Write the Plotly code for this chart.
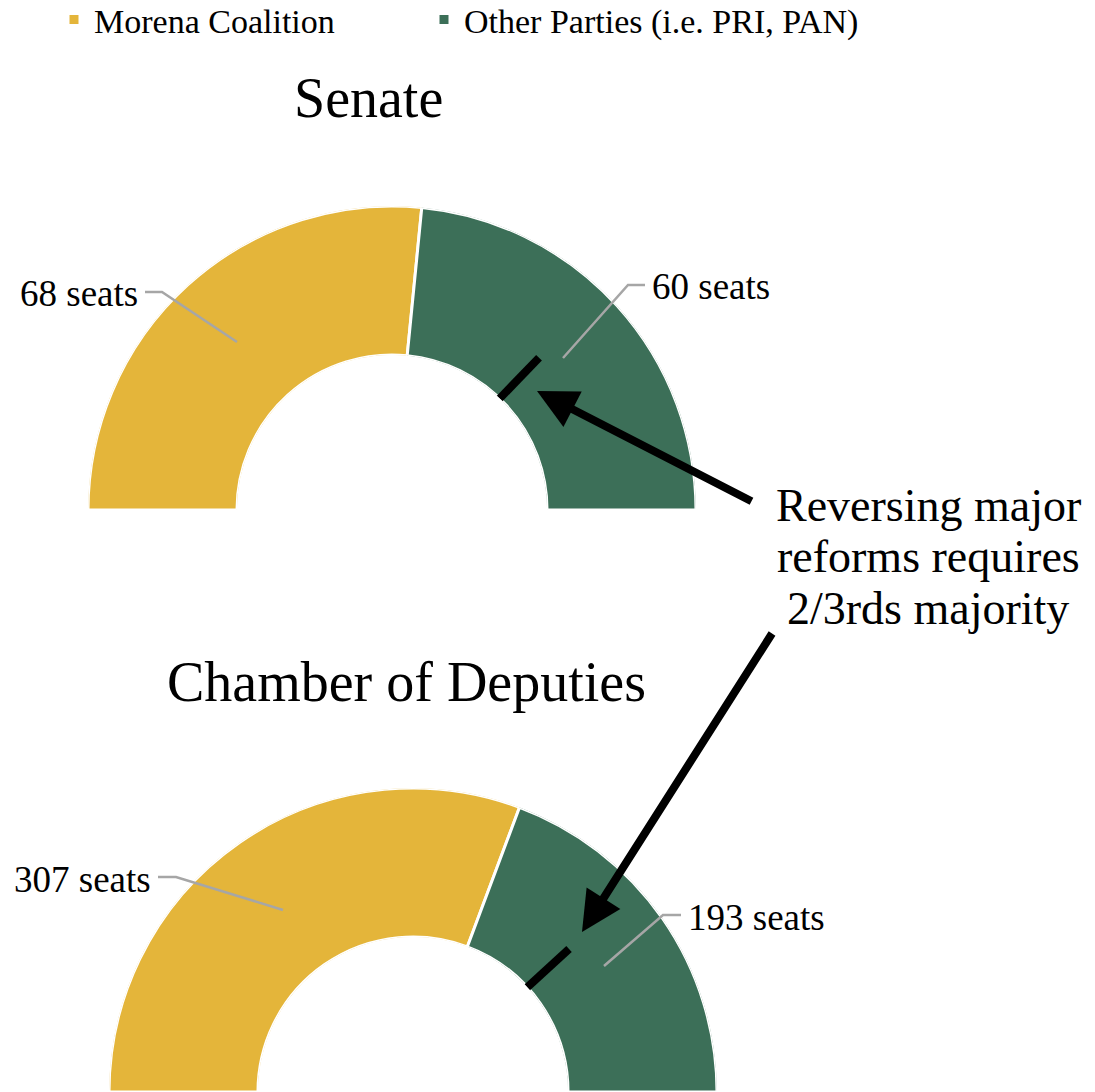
import plotly.graph_objects as go

W, H = 1095, 1092
FONT = "Liberation Serif"

# ---- data ----
parties = ["Morena Coalition", "Other Parties (i.e. PRI, PAN)"]
colors = ["#E4B53A", "#3C6F58"]
senate_seats = [68, 60]
chamber_seats = [307, 193]
chamber_titles = ["Senate", "Chamber of Deputies"]
note_lines = ["Reversing major", "reforms requires", "2/3rds majority"]


def fx(px):
    return px / W


def fy(py):
    return 1 - py / H


def wedges(vals):
    total = sum(vals)
    centers, widths = [], []
    cum = 0
    for v in vals:
        w = v / total * 180
        centers.append(cum * 180 / total + w / 2)
        widths.append(w)
        cum += v
    return centers, widths


fig = go.Figure()

polar_specs = [
    ("polar", senate_seats, [88, 696], [510, 206], 134),
    ("polar2", chamber_seats, [109, 717], [1092, 788], 137.5),
]
legend_ids = ["legend", "legend2"]

for k, (pid, vals, xd, yd, mark_theta) in enumerate(polar_specs):
    centers, widths = wedges(vals)
    for i in range(len(vals)):
        fig.add_trace(go.Barpolar(
            r=[1], theta=[centers[i]], width=[widths[i]],
            marker=dict(color=colors[i], line=dict(color="white", width=3)),
            name=parties[i], showlegend=(k == 0), legendgroup=parties[i],
            legend=legend_ids[i],
            subplot=pid, hoverinfo="skip",
        ))
    fig.add_trace(go.Scatterpolar(
        r=[0, 0.38], theta=[mark_theta, mark_theta], mode="lines",
        line=dict(color="black", width=8), showlegend=False,
        subplot=pid, hoverinfo="skip",
    ))
    pol = dict(
        domain=dict(x=[fx(xd[0]), fx(xd[1])], y=[fy(yd[0]), fy(yd[1])]),
        sector=[0, 180], hole=0.51, bgcolor="rgba(0,0,0,0)",
        radialaxis=dict(visible=False, range=[0, 1]),
        angularaxis=dict(visible=False, rotation=180, direction="clockwise",
                         thetaunit="degrees"),
        bargap=0,
    )
    fig.update_layout(**{pid: pol})

annotations = []
shapes = []

# titles
annotations.append(dict(text=chamber_titles[0], x=fx(368), y=fy(98), xref="paper", yref="paper",
                        xanchor="center", yanchor="middle", showarrow=False,
                        font=dict(size=56, color="black", family=FONT)))
annotations.append(dict(text=chamber_titles[1], x=fx(406), y=fy(682), xref="paper", yref="paper",
                        xanchor="center", yanchor="middle", showarrow=False,
                        font=dict(size=56, color="black", family=FONT)))

# seat labels with leader lines
label_specs = [
    (senate_seats[0], 140, 294, "right", [(145, 292), (162, 292), (237, 342)]),
    (senate_seats[1], 650, 287, "left", [(645, 285), (628, 285), (563, 358)]),
    (chamber_seats[0], 153, 879, "right", [(158, 877), (176, 877), (283, 910)]),
    (chamber_seats[1], 686, 917, "left", [(681, 915), (663, 915), (604, 966)]),
]
for val, lx, ly, xa, pts in label_specs:
    annotations.append(dict(text=f"{val} seats", x=fx(lx), y=fy(ly), xref="paper", yref="paper",
                            xanchor=xa, yanchor="middle", showarrow=False,
                            font=dict(size=37, color="black", family=FONT)))
    path = "M " + " L ".join(f"{fx(a)},{fy(b)}" for a, b in pts)
    shapes.append(dict(type="path", path=path, xref="paper", yref="paper",
                       line=dict(color="#A6A6A6", width=2.5)))

# note text (three lines, tight spacing)
for j, line in enumerate(note_lines):
    annotations.append(dict(text=line, x=fx(928), y=fy(505 + 51.5 * j), xref="paper", yref="paper",
                            xanchor="center", yanchor="middle", showarrow=False,
                            font=dict(size=46, color="black", family=FONT)))

# arrows
for (hx, hy), (tx, ty) in [((537, 391), (753, 502)), ((582, 932), (773, 632))]:
    annotations.append(dict(text="", x=fx(hx), y=fy(hy), xref="paper", yref="paper",
                            ax=tx - hx, ay=ty - hy, showarrow=True, arrowhead=2,
                            arrowsize=1, arrowwidth=8, arrowcolor="black", standoff=0,
                            startstandoff=0))

leg_common = dict(orientation="h", y=1 + 9 / H, xanchor="left", yanchor="top",
                  font=dict(size=34, family=FONT, color="black"),
                  bgcolor="rgba(0,0,0,0)", itemclick=False, itemdoubleclick=False)

fig.update_layout(
    width=W, height=H,
    margin=dict(l=0, r=0, t=0, b=0, autoexpand=False),
    paper_bgcolor="white", plot_bgcolor="white",
    font=dict(family=FONT, color="black"),
    showlegend=True,
    legend=dict(x=fx(54), **leg_common),
    legend2=dict(x=fx(424), **leg_common),
    annotations=annotations,
    shapes=shapes,
)

fig.write_html(
    "out.html",
    config={"displayModeBar": False},
    post_script="document.body.style.margin='0';document.body.style.overflow='hidden';",
)
